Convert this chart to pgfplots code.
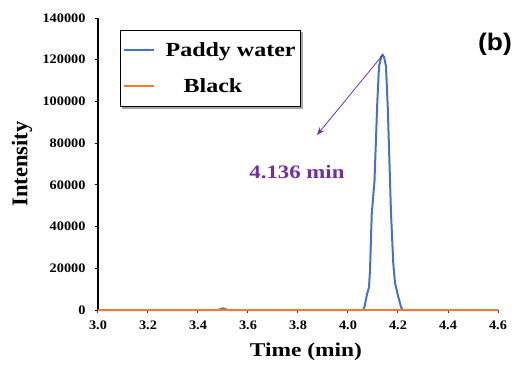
\documentclass[border=0pt]{standalone}
\usepackage{fontspec}
\setmainfont{Liberation Serif}
\newfontfamily\stretched{Liberation Serif}[FakeStretch=1.2]
\newfontfamily\tickf{Liberation Serif}[FakeStretch=1.1]
\newfontfamily\sansb{Liberation Sans}[FakeStretch=1.1]
\usepackage{pgfplots}
\pgfplotsset{compat=1.18}
\usetikzlibrary{backgrounds,arrows.meta}
\definecolor{cblue}{RGB}{68,114,196}
\definecolor{corange}{RGB}{237,125,49}
\definecolor{cpurple}{RGB}{112,48,160}
\begin{document}
\begin{tikzpicture}
\begin{axis}[
  at={(0pt,0pt)}, anchor=south west,
  scale only axis, width=400pt, height=292pt,
  xmin=3, xmax=4.6, ymin=0, ymax=140000,
  clip=false,
  axis lines*=left,
  x axis line style={draw=none},
  y axis line style={draw=black, line width=1.8pt},
  xtick={3.0,3.2,3.4,3.6,3.8,4.0,4.2,4.4,4.6},
  ytick={0,20000,40000,60000,80000,100000,120000,140000},
  scaled y ticks=false,
  tick align=outside,
  major tick length=3pt,
  x tick style={draw=gray!60!blue!60!black, line width=1pt},
  y tick style={draw=black, line width=1pt},
  xticklabel style={yshift=-4pt, /pgf/number format/.cd, fixed, fixed zerofill, precision=1, assume math mode=true},
  yticklabel style={xshift=-6pt, /pgf/number format/.cd, fixed, 1000 sep={}, assume math mode=true},
  tick label style={font=\tickf\bfseries\fontsize{13}{15}\selectfont},
  every axis y label/.style={at={(axis description cs:-0.19,0.5)}, rotate=90, anchor=center},
  every axis x label/.style={at={(axis description cs:0.52,-0.144)}, anchor=center},
  ylabel={\bfseries\fontsize{22.5}{26}\selectfont Intensity},
  xlabel={\stretched\bfseries\fontsize{19.5}{24}\selectfont Time (min)},
  legend style={name=leg, at={(rel axis cs:0.055,0.959)}, anchor=north west, draw=black, line width=0.8pt,
    font=\stretched\bfseries\fontsize{20}{24}\selectfont,
    row sep=17pt, inner xsep=3pt, inner ysep=10pt, fill=white},
  legend cell align=left,
  legend image code/.code={\draw[#1, line width=2pt] (0pt,0pt) -- (30pt,0pt); \path (38pt,0pt);},
]
\addplot[cblue, line width=2pt] coordinates {
(3.00,0) (3.48,0) (3.49,400) (3.50,800) (3.51,400) (3.52,0)
(4.060,0) (4.066,1500) (4.075,7000) (4.084,11000) (4.088,19000) (4.095,46000)
(4.106,62000) (4.117,99000) (4.124,116700) (4.133,121500) (4.139,122300)
(4.145,121000) (4.152,116700) (4.159,97400) (4.168,62300) (4.172,46500)
(4.181,22500) (4.188,13000) (4.201,6400) (4.212,1500) (4.218,0) (4.60,0)
};
\addlegendentry{Paddy water}
\addplot[corange, line width=2.4pt] coordinates {(3.00,0) (4.60,0)};
\addlegendentry{\hspace{18pt}Black}
\draw[cpurple, line width=0.8pt, -{Stealth[length=8pt,width=6pt]}] (axis cs:4.139,122300) -- (axis cs:3.876,83900);
\node[cpurple, font=\stretched\bfseries\fontsize{19}{22}\selectfont] at (axis cs:3.796,66200) {4.136 min};
\node[font=\sansb\bfseries\fontsize{24}{28}\selectfont] at (rel axis cs:0.9925,0.911) {(b)};
\end{axis}
\begin{scope}[on background layer]
\fill[black, opacity=0.35] ([shift={(2.5pt,-2.5pt)}]leg.south west) rectangle ([shift={(2.5pt,-2.5pt)}]leg.north east);
\end{scope}
\pgfresetboundingbox
\useasboundingbox (-98pt,-58pt) rectangle (417pt,310pt);
\end{tikzpicture}
\end{document}
